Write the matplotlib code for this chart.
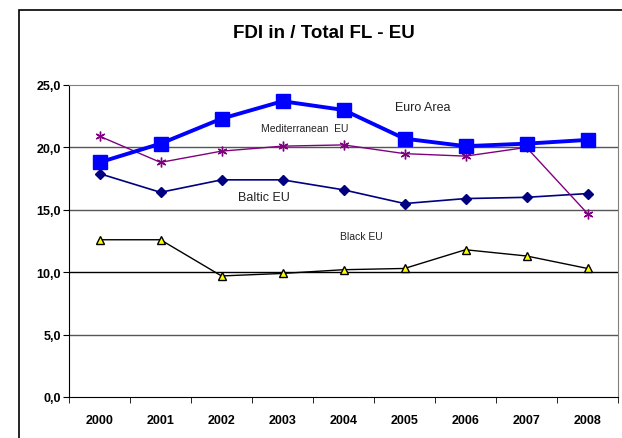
import matplotlib
matplotlib.use('Agg')
import matplotlib.pyplot as plt
from matplotlib.patches import Rectangle
import numpy as np

plt.rcParams['font.family'] = ['Liberation Sans', 'DejaVu Sans']

years = ['2000', '2001', '2002', '2003', '2004', '2005', '2006', '2007', '2008']
euro_area = [18.8, 20.3, 22.3, 23.7, 23.0, 20.7, 20.1, 20.3, 20.6]
mediterranean = [20.9, 18.8, 19.7, 20.1, 20.2, 19.5, 19.3, 20.0, 14.7]
baltic = [17.9, 16.4, 17.4, 17.4, 16.6, 15.5, 15.9, 16.0, 16.3]
black = [12.6, 12.6, 9.7, 9.9, 10.2, 10.3, 11.8, 11.3, 10.3]

fig = plt.figure(figsize=(6.22, 4.39), dpi=100)
# outer chart frame
fig.patches.append(Rectangle((19/622, -0.1), 1.0, (439-11)/439 + 0.1,
                             transform=fig.transFigure, fill=False,
                             edgecolor='black', linewidth=1.2))

ax = fig.add_axes([69/622, 41/439, 549/622, 312/439])
x = np.arange(len(years))

for yv in [5, 10, 15, 20]:
    ax.axhline(yv, color='#555555' if yv != 10 else 'black', linewidth=1.0, zorder=1)

ax.plot(x, black, color='black', linewidth=1.0, marker='^', markersize=6,
        markerfacecolor='#ffff00', markeredgecolor='black', zorder=3)
ax.plot(x, baltic, color='#000080', linewidth=1.2, marker='D', markersize=5,
        markerfacecolor='#000080', zorder=3)
ax.plot(x, mediterranean, color='#800080', linewidth=1.0, marker=(6, 2, 0), markersize=7,
        markeredgewidth=1.0, zorder=3)
ax.plot(x, euro_area, color='#0000ff', linewidth=2.8, marker='s', markersize=10,
        markerfacecolor='#0000ff', zorder=4)

ax.set_xlim(-0.5, len(years) - 0.5)
ax.set_ylim(0, 25)
ax.set_yticks([0, 5, 10, 15, 20, 25])
ax.set_yticklabels(['0,0', '5,0', '10,0', '15,0', '20,0', '25,0'],
                   fontsize=9, fontweight='bold')
ax.set_xticks(x)
ax.set_xticklabels(years, fontsize=9, fontweight='bold')
ax.set_xticks(np.arange(-0.5, len(years)), minor=True)
ax.tick_params(axis='x', which='major', length=0, pad=12)
ax.tick_params(axis='x', which='minor', length=4, direction='out')
ax.tick_params(axis='y', length=4, direction='out', pad=2)

for s in ['top', 'right']:
    ax.spines[s].set_color('#808080')
for s in ['left', 'bottom']:
    ax.spines[s].set_color('black')

ax.text(4.84, 23.2, 'Euro Area', fontsize=9, ha='left', va='center', color='#222222')
ax.text(3.37, 21.55, 'Mediterranean  EU', fontsize=7.5, ha='center', va='center', color='#222222')
ax.text(2.7, 16.0, 'Baltic EU', fontsize=9, ha='center', va='center', color='#222222')
ax.text(4.3, 12.9, 'Black EU', fontsize=7.5, ha='center', va='center', color='#222222')

fig.text(324/622, 1 - 34/439, 'FDI in / Total FL - EU', fontsize=13.5, fontweight='bold',
         ha='center', va='center')

fig.savefig('out.png', dpi=100)
